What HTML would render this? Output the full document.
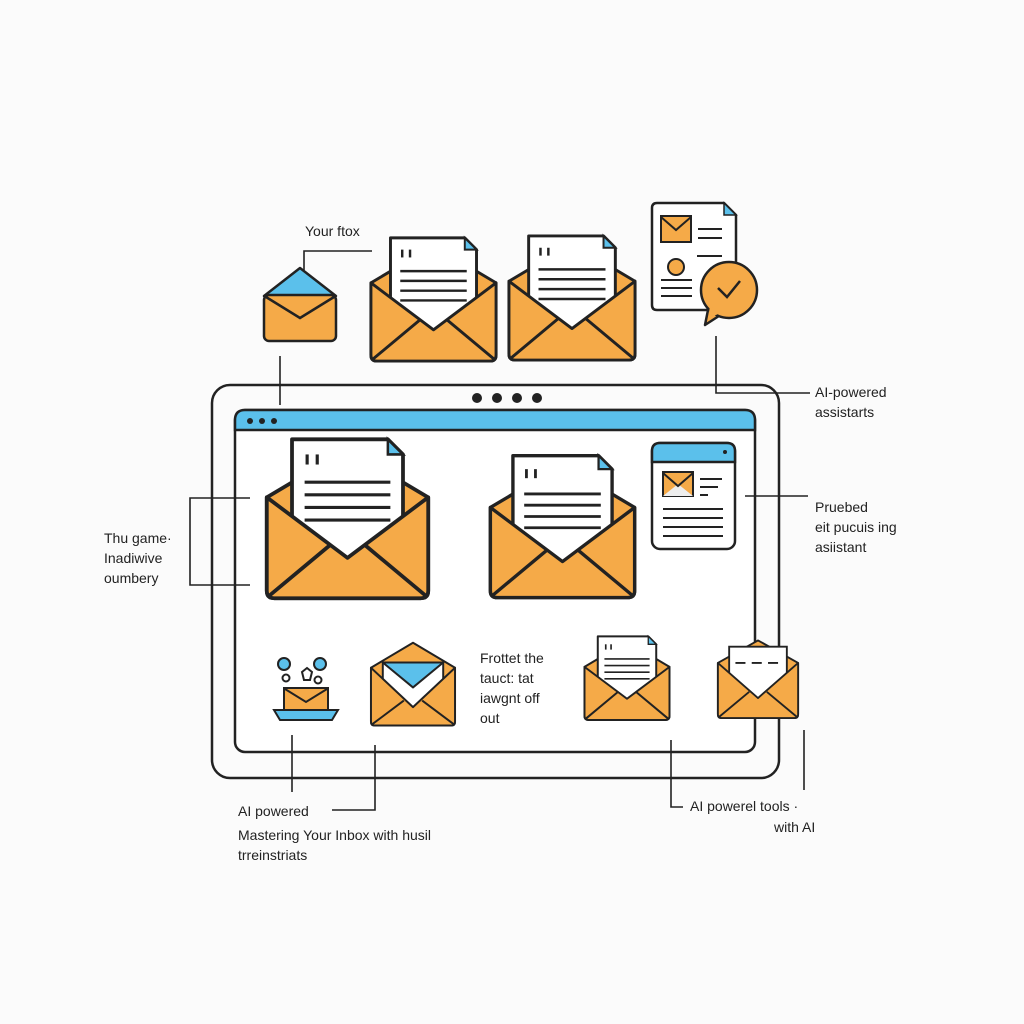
<!DOCTYPE html>
<html><head><meta charset="utf-8"><style>
html,body{margin:0;padding:0;background:#fbfbfb;}
svg{display:block}
text{font-family:"Liberation Sans",sans-serif;fill:#222;font-size:14px}
</style></head><body>
<svg width="1024" height="1024" viewBox="0 0 1024 1024" xmlns="http://www.w3.org/2000/svg">
<defs>
<symbol id="env" viewBox="-3 -3 134 134">
  <path d="M0,48 L64,10 L128,48 L128,122 Q128,128 122,128 L6,128 Q0,128 0,122 Z" fill="#F5AA48" stroke="#222" stroke-width="3" stroke-linejoin="round"/>
  <path d="M20,2 L96,2 L108,14 L108,80 L64,98 L20,80 Z" fill="#fff" stroke="#222" stroke-width="3" stroke-linejoin="round"/>
  <path d="M96,2 L96,14 L108,14 Z" fill="#5BC0EB" stroke="#222" stroke-width="2"/>
  <g stroke="#222" stroke-width="2.5">
    <line x1="32" y1="14" x2="32" y2="22"/><line x1="40" y1="14" x2="40" y2="22"/>
    <line x1="30" y1="36" x2="98" y2="36"/><line x1="30" y1="46" x2="98" y2="46"/>
    <line x1="30" y1="56" x2="98" y2="56"/><line x1="30" y1="66" x2="98" y2="66"/>
  </g>
  <path d="M0,48 L64,96 L128,48 L128,122 Q128,128 122,128 L6,128 Q0,128 0,122 Z" fill="#F5AA48" stroke="#222" stroke-width="3" stroke-linejoin="round"/>
  <path d="M2,126 L50,86 M126,126 L78,86" stroke="#222" stroke-width="3"/>
</symbol>
<symbol id="env2" viewBox="-3 -3 134 134">
  <path d="M0,40 L64,4 L128,40 L128,122 Q128,128 122,128 L6,128 Q0,128 0,122 Z" fill="#F5AA48" stroke="#222" stroke-width="3" stroke-linejoin="round"/>
  <path d="M18,14 L110,14 L110,80 L64,100 L18,80 Z" fill="#fff" stroke="#222" stroke-width="3"/>
  <path d="M28,40 H44 M54,40 H70 M80,40 H96" stroke="#222" stroke-width="3"/>
  <path d="M0,40 L64,96 L128,40 L128,122 Q128,128 122,128 L6,128 Q0,128 0,122 Z" fill="#F5AA48" stroke="#222" stroke-width="3" stroke-linejoin="round"/>
  <path d="M2,126 L50,86 M126,126 L78,86" stroke="#222" stroke-width="3"/>
</symbol>
<symbol id="envb" viewBox="-3 -3 134 134">
  <path d="M0,40 L64,2 L128,40 L128,122 Q128,128 122,128 L6,128 Q0,128 0,122 Z" fill="#F5AA48" stroke="#222" stroke-width="3" stroke-linejoin="round"/>
  <path d="M18,32 L110,32 L110,90 L64,112 L18,90 Z" fill="#fff" stroke="#222" stroke-width="3"/>
  <path d="M18,32 L110,32 L64,70 Z" fill="#5BC0EB" stroke="#222" stroke-width="3" stroke-linejoin="round"/>
  <path d="M0,40 L64,100 L128,40 L128,122 Q128,128 122,128 L6,128 Q0,128 0,122 Z" fill="#F5AA48" stroke="#222" stroke-width="3" stroke-linejoin="round"/>
  <path d="M2,126 L50,90 M126,126 L78,90" stroke="#222" stroke-width="3"/>
</symbol>
</defs>

<rect x="212" y="385" width="567" height="393" rx="18" fill="none" stroke="#222" stroke-width="2.5"/>
<rect x="235" y="410" width="520" height="342" rx="10" fill="#fff" stroke="#222" stroke-width="2.5"/>
<path d="M235,430 L235,420 Q235,410 245,410 L745,410 Q755,410 755,420 L755,430 Z" fill="#5BC0EB" stroke="#222" stroke-width="2.5"/>
<g fill="#222"><circle cx="477" cy="398" r="5"/><circle cx="497" cy="398" r="5"/><circle cx="517" cy="398" r="5"/><circle cx="537" cy="398" r="5"/>
<circle cx="250" cy="421" r="3"/><circle cx="262" cy="421" r="3"/><circle cx="274" cy="421" r="3"/></g>

<g stroke="#222" stroke-width="1.6" fill="none">
<path d="M372,251 H304 V270"/>
<path d="M280,356 V405"/>
<path d="M716,336 V393 H810"/>
<path d="M250,498 H190 V585 H250"/>
<path d="M745,496 H808"/>
<path d="M292,735 V792"/>
<path d="M332,810 H375 V745"/>
<path d="M671,740 V807 H683"/>
<path d="M804,730 V790"/>
</g>

<g>
  <path d="M264,296 L300,268 L336,296 Z" fill="#5BC0EB" stroke="#222" stroke-width="2.5" stroke-linejoin="round"/>
  <rect x="264" y="295" width="72" height="46" rx="5" fill="#F5AA48" stroke="#222" stroke-width="2.5"/>
  <path d="M266,297 L300,318 L334,297" fill="none" stroke="#222" stroke-width="2.5"/>
</g>
<use href="#env" x="368" y="233" width="131" height="131"/>
<use href="#env" x="505" y="231" width="134" height="132"/>

<path d="M652,208 Q652,203 657,203 L724,203 L736,215 L736,305 Q736,310 731,310 L657,310 Q652,310 652,305 Z" fill="#fff" stroke="#222" stroke-width="2.5"/>
<path d="M724,203 L724,215 L736,215 Z" fill="#5BC0EB" stroke="#222" stroke-width="1.5"/>
<rect x="661" y="216" width="30" height="26" fill="#F5AA48" stroke="#222" stroke-width="2"/>
<path d="M661,217 L676,230 L691,217" fill="none" stroke="#222" stroke-width="2"/>
<path d="M698,229 H722 M698,238 H722 M697,256 H722 M661,280 H692 M661,288 H692 M661,296 H692" stroke="#222" stroke-width="2"/>
<circle cx="676" cy="267" r="8" fill="#F5AA48" stroke="#222" stroke-width="2"/>
<path d="M705,325 L709,305 L722,314 Z" fill="#F5AA48" stroke="#222" stroke-width="2.5" stroke-linejoin="round"/>
<circle cx="729" cy="290" r="28" fill="#F5AA48" stroke="#222" stroke-width="2.5"/>
<path d="M708,319 L710,306 L720,313 Z" fill="#F5AA48"/>
<path d="M718,288 L727,297 L740,281" fill="none" stroke="#222" stroke-width="2.5"/>

<use href="#env" x="263" y="433" width="169" height="169"/>
<use href="#env" x="487" y="449" width="151" height="153"/>

<rect x="652" y="443" width="83" height="106" rx="8" fill="#fff" stroke="#222" stroke-width="2.5"/>
<path d="M652,462 V451 Q652,443 660,443 L727,443 Q735,443 735,451 V462 Z" fill="#5BC0EB" stroke="#222" stroke-width="2.5"/>
<circle cx="725" cy="452" r="2" fill="#222"/>
<rect x="663" y="472" width="30" height="24" fill="#F5AA48" stroke="#222" stroke-width="2"/>
<path d="M663,496 L678,484 L693,496 Z" fill="#eee"/>
<path d="M663,473 L678,486 L693,473" fill="none" stroke="#222" stroke-width="2"/>
<path d="M700,479 H722 M700,487 H718 M700,495 H708 M663,509 H723 M663,518 H723 M663,527 H723 M663,536 H723" stroke="#222" stroke-width="2"/>

<g stroke="#222" stroke-width="2">
  <path d="M274,710 H338 L332,720 H280 Z" fill="#5BC0EB"/>
  <rect x="284" y="688" width="44" height="22" fill="#F5AA48"/>
  <path d="M285,689 L306,702 L327,689" fill="none"/>
  <circle cx="284" cy="664" r="6" fill="#5BC0EB"/>
  <circle cx="320" cy="664" r="6" fill="#5BC0EB"/>
  <circle cx="286" cy="678" r="3.5" fill="#fff"/>
  <path d="M302,672 L307,668 L312,672 L310,680 H304 Z" fill="#fff"/>
  <circle cx="318" cy="680" r="3.5" fill="#fff"/>
</g>
<use href="#envb" x="369" y="635" width="88" height="97"/>
<use href="#env" x="580" y="633" width="94" height="89"/>
<use href="#env2" x="709" y="636" width="98" height="84"/>

<text x="305" y="236">Your ftox</text>
<text x="815" y="397">AI-powered</text>
<text x="815" y="417">assistarts</text>
<text x="104" y="543" font-size="13">Thu game·</text>
<text x="104" y="563" font-size="13">Inadiwive</text>
<text x="104" y="583" font-size="13">oumbery</text>
<text x="815" y="512">Pruebed</text>
<text x="815" y="532">eit pucuis ing</text>
<text x="815" y="552">asiistant</text>
<text x="480" y="663">Frottet the</text>
<text x="480" y="683">tauct: tat</text>
<text x="480" y="703">iawgnt off</text>
<text x="480" y="723">out</text>
<text x="238" y="816">AI powered</text>
<text x="238" y="840">Mastering Your Inbox with husil</text>
<text x="238" y="860">trreinstriats</text>
<text x="690" y="811">AI powerel tools ·</text>
<text x="774" y="832">with AI</text>
</svg>
</body></html>
